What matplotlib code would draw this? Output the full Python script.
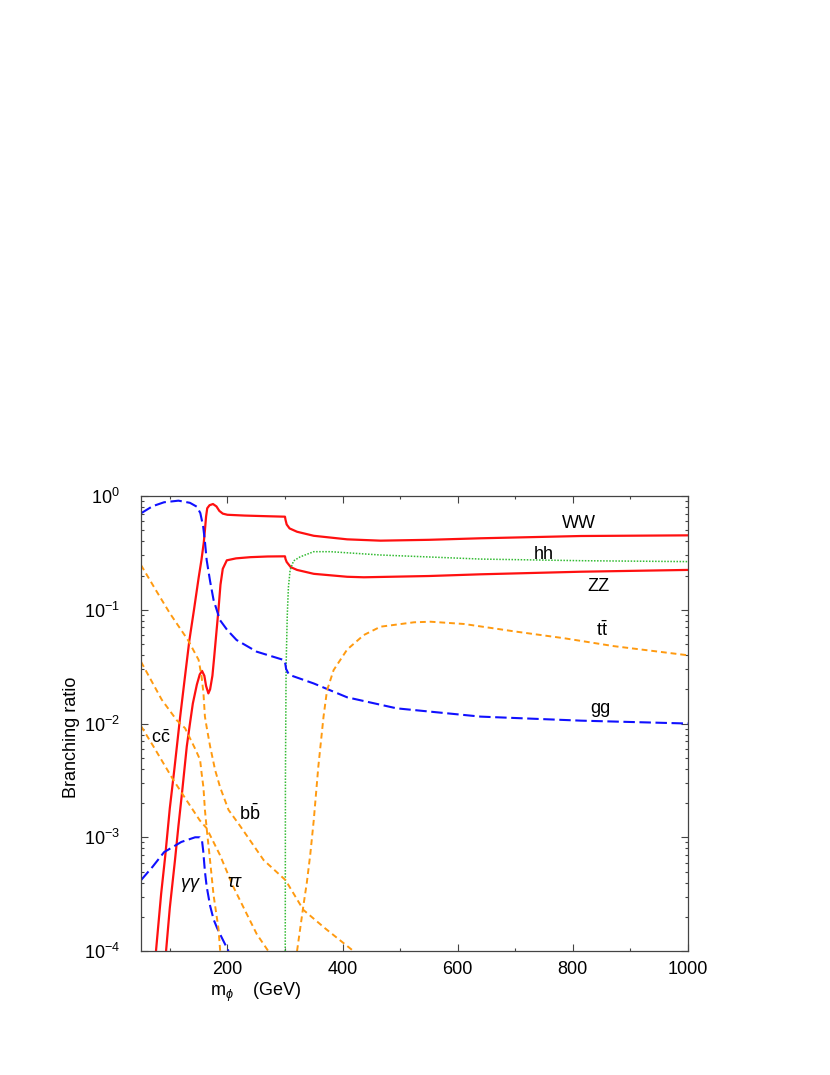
import matplotlib
matplotlib.use("Agg")
import matplotlib.pyplot as plt
from matplotlib.ticker import MultipleLocator, LogLocator, NullFormatter

plt.rcParams['font.family'] = ['Liberation Sans', 'DejaVu Sans']
plt.rcParams['mathtext.fontset'] = 'custom'
plt.rcParams['mathtext.rm'] = 'Liberation Sans'
plt.rcParams['mathtext.it'] = 'Liberation Sans:italic'

# branching ratios, mass in GeV
ww_m = [76, 85, 92, 100, 108, 118, 126, 134, 142, 150, 155, 159, 161, 163, 165, 169,
        175, 181, 186, 192, 200, 230, 270, 300, 301, 303, 308, 321, 350, 408, 466,
        550, 640, 814, 1000]
ww_br = [1.0e-4, 3.2e-4, 6.8e-4, 1.8e-3, 4.0e-3, 1.15e-2, 2.5e-2, 5.4e-2, 0.10, 0.19,
         0.275, 0.39, 0.50, 0.66, 0.78, 0.83, 0.85, 0.81, 0.74, 0.70, 0.684, 0.673,
         0.664, 0.658, 0.617, 0.562, 0.519, 0.485, 0.447, 0.416, 0.405, 0.412, 0.425,
         0.445, 0.451]

zz_m = [93.5, 100, 109, 115, 121, 129.5, 135, 140, 147, 152, 156, 160, 163, 167, 170,
        174, 177, 180, 184.5, 188, 192, 199, 215, 240, 270, 300, 301, 303, 310, 321,
        350, 408, 437, 550, 640, 814, 1000]
zz_br = [1.0e-4, 2.4e-4, 6.3e-4, 1.26e-3, 2.4e-3, 6.3e-3, 1.0e-2, 1.5e-2, 2.2e-2,
         2.7e-2, 2.9e-2, 2.63e-2, 2.14e-2, 1.84e-2, 2.0e-2, 2.63e-2, 3.8e-2, 5.6e-2,
         0.10, 0.166, 0.229, 0.272, 0.283, 0.290, 0.294, 0.295, 0.279, 0.263, 0.237,
         0.224, 0.207, 0.195, 0.193, 0.198, 0.205, 0.216, 0.224]

hh_m = [300.5, 300.8, 302, 304, 306, 309, 315, 326.5, 350, 379, 466, 640, 814, 1000]
hh_br = [1.0e-4, 3.2e-3, 3.2e-2, 8.9e-2, 0.158, 0.224, 0.269, 0.292, 0.324, 0.324,
         0.303, 0.279, 0.270, 0.265]

gg_m = [50, 70, 90, 115, 135, 147, 153, 158, 161, 164, 170, 176, 187, 200, 216, 251,
        297, 300, 302, 306, 312, 350, 408, 494, 640, 814, 1000]
gg_br = [0.705, 0.813, 0.881, 0.910, 0.871, 0.805, 0.708, 0.537, 0.398, 0.274, 0.178,
         0.122, 0.0813, 0.0661, 0.0542, 0.0428, 0.0363, 0.0349, 0.0302, 0.0275,
         0.0263, 0.0225, 0.0170, 0.0136, 0.0115, 0.0106, 0.0100]

aa_m = [50, 70, 90, 120, 144, 152, 156, 158, 161, 164, 170, 176, 182, 190, 199, 202]
aa_br = [4.2e-4, 5.5e-4, 7.4e-4, 9.1e-4, 1.0e-3, 1.0e-3, 9.3e-4, 7.6e-4, 5.0e-4,
         3.7e-4, 2.5e-4, 1.9e-4, 1.6e-4, 1.32e-4, 1.07e-4, 1.0e-4]

tt_m = [321, 332, 338, 344, 350, 358, 367, 373, 384.5, 408, 437, 466, 524, 553, 611,
        698, 785, 871, 1000]
tt_br = [1.0e-4, 2.5e-4, 4.0e-4, 7.1e-4, 1.41e-3, 4.2e-3, 1.15e-2, 1.95e-2, 2.95e-2,
         4.47e-2, 6.0e-2, 7.1e-2, 7.76e-2, 7.85e-2, 7.5e-2, 6.46e-2, 5.62e-2,
         4.79e-2, 3.98e-2]

bb_m = [50, 75, 100, 132, 150, 155, 158.4, 161, 164, 170, 178.7, 187.4, 202, 222, 240,
        263, 301, 332, 370, 419]
bb_br = [0.247, 0.151, 0.0933, 0.0537, 0.0363, 0.0263, 0.0186, 0.0115, 9.3e-3, 6.3e-3,
         3.9e-3, 2.75e-3, 1.74e-3, 1.26e-3, 9.3e-4, 6.3e-4, 4.2e-4, 2.3e-4, 1.58e-4,
         1.0e-4]

cc_m = [50, 86, 112, 126.5, 144, 152.6, 155.4, 158.4, 161, 164, 170, 176, 184.5, 187.5]
cc_br = [0.0349, 0.0162, 0.0107, 9.1e-3, 6.0e-3, 4.8e-3, 3.6e-3, 2.75e-3, 1.74e-3,
         1.2e-3, 6.2e-4, 3.1e-4, 1.58e-4, 1.0e-4]

tau_m = [50, 71.5, 106, 129.5, 152, 164, 187, 210, 234, 251, 271]
tau_br = [9.5e-3, 6.3e-3, 3.2e-3, 2.1e-3, 1.41e-3, 1.2e-3, 7.0e-4, 3.7e-4, 2.1e-4,
          1.41e-4, 1.0e-4]

# curve labels: text, mass, BR
labels = [
    ('WW', 810, 0.573),
    ('hh', 750, 0.303),
    ('ZZ', 845, 0.160),
    (r'$\mathrm{t\bar{t}}$', 851, 0.066),
    ('gg', 848, 0.0135),
    (r'$\mathrm{c\bar{c}}$', 84, 0.0074),
    (r'$\mathrm{b\bar{b}}$', 238, 0.00162),
    (r'$\gamma\gamma$', 136, 3.8e-4),
    (r'$\tau\tau$', 213.5, 3.98e-4),
]

RED = '#ff1010'
BLUE = '#1010ff'
ORANGE = '#ff9a10'
GREEN = '#33bb33'
FRAME = '#444444'

fig = plt.figure(figsize=(8.3, 10.75), dpi=100)
ax = fig.add_axes([0.1699, 0.1153, 0.659, 0.4233])

ax.plot(ww_m, ww_br, color=RED, lw=1.6)
ax.plot(zz_m, zz_br, color=RED, lw=1.6)
ax.plot(hh_m, hh_br, color=GREEN, lw=1.1, linestyle=(0, (1, 1)))
ax.plot(gg_m, gg_br, color=BLUE, lw=1.5, linestyle=(0, (5.5, 2.2)))
ax.plot(aa_m, aa_br, color=BLUE, lw=1.5, linestyle=(0, (5.5, 2.2)))
for m, br in [(tt_m, tt_br), (bb_m, bb_br), (cc_m, cc_br), (tau_m, tau_br)]:
    ax.plot(m, br, color=ORANGE, lw=1.4, linestyle=(0, (3, 2)))

for txt, xm, yb in labels:
    ax.text(xm, yb, txt, fontsize=13, ha='center', va='center')

ax.set_yscale('log')
ax.set_xlim(50, 1000)
ax.set_ylim(1e-4, 1)
ax.xaxis.set_major_locator(MultipleLocator(200))
ax.xaxis.set_minor_locator(MultipleLocator(100))
ax.yaxis.set_major_locator(LogLocator(base=10, numticks=10))
ax.yaxis.set_minor_locator(LogLocator(base=10, subs=range(2, 10), numticks=10))
ax.yaxis.set_minor_formatter(NullFormatter())
ax.tick_params(which='both', direction='in', top=True, right=True, labelsize=13,
               color=FRAME)
ax.tick_params(which='major', length=5, width=0.8)
ax.tick_params(which='minor', length=2.5, width=0.8)
ax.tick_params(axis='x', pad=7)
ax.tick_params(axis='y', pad=15)
for s in ax.spines.values():
    s.set_linewidth(0.9)
    s.set_color(FRAME)

ax.set_xlabel(r'$\mathrm{m}_{\phi}$    (GeV)', fontsize=13, labelpad=2, x=0.21)
ax.set_ylabel('Branching ratio', fontsize=13, labelpad=3, y=0.47)

fig.savefig('out.png', dpi=100)
